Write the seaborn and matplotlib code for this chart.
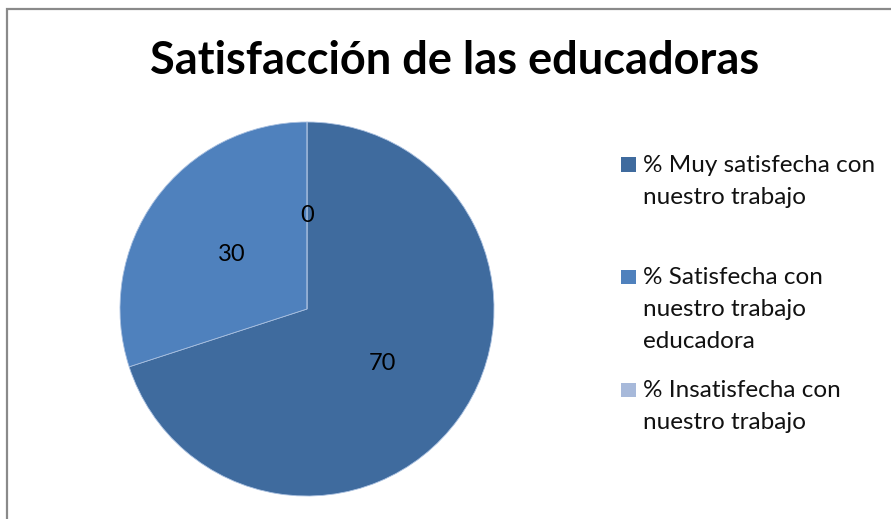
import seaborn as sns
import matplotlib
matplotlib.use("Agg")
from matplotlib import pyplot as plt
from matplotlib.patches import Rectangle

categories = [
    "% Muy satisfecha con\nnuestro trabajo",
    "% Satisfecha con\nnuestro trabajo\neducadora",
    "% Insatisfecha con\nnuestro trabajo",
]
values = [70, 30, 0]
colors = ["#3F6B9E", "#4F81BD", "#A7B9DA"]
title = "Satisfacción de las educadoras"

sns.set_theme(style="white")
plt.rcParams["font.family"] = ["Lato", "DejaVu Sans"]

W, H = 891, 519
fig = plt.figure(figsize=(W / 100, H / 100), dpi=100)

# outer chart border (left and top visible)
fig.patches.append(Rectangle((7 / W, -0.05), 1.1, (H - 9) / H + 0.05,
                             transform=fig.transFigure, fill=False,
                             edgecolor="#8A8A8A", linewidth=1.6))

cx, cy, r = 307, H - 309, 187
ax = fig.add_axes([(cx - r) / W, (cy - r) / H, 2 * r / W, 2 * r / H])
wedges, texts, autotexts = ax.pie(
    values, colors=colors, startangle=90, counterclock=False,
    autopct=lambda p: f"{p:.0f}", pctdistance=0.5,
    wedgeprops=dict(edgecolor="#A9C0E0", linewidth=0.6),
    textprops=dict(fontsize=17, color="black"),
)
ax.set_xlim(-1, 1)
ax.set_ylim(-1, 1)
ax.set_aspect("equal")

fig.text(455 / W, 1 - 61 / H, title, ha="center", va="center",
         fontsize=32.5, fontweight="bold", color="black")

# legend, square aligned with first text line (baselines in px from top)
leg_base = [172, 284, 397]
line_gap = 32
for lab, col, y in zip(categories, colors, leg_base):
    fig.patches.append(Rectangle((621 / W, 1 - y / H), 15 / W, 14.5 / H,
                                 transform=fig.transFigure, facecolor=col,
                                 edgecolor="none"))
    for i, line in enumerate(lab.split("\n")):
        fig.text(643 / W, 1 - (y + i * line_gap) / H, line, ha="left",
                 va="baseline", fontsize=17.5, color="#111111")

fig.savefig("out.png", dpi=100)
